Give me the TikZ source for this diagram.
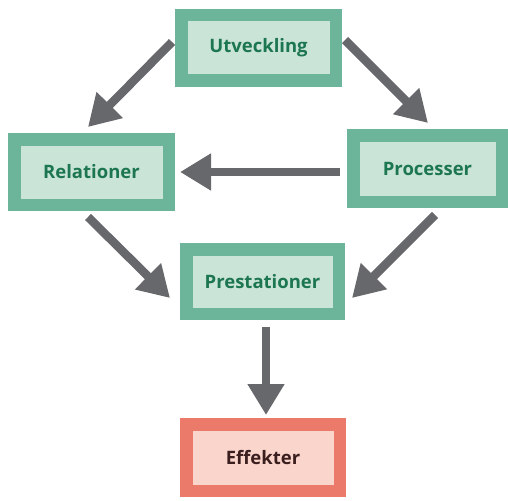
\documentclass[tikz,border=0pt]{standalone}
\usepackage{fontspec}
\setmainfont{Open Sans}
\usetikzlibrary{arrows.meta,calc}
\definecolor{gout}{HTML}{6DB59A}
\definecolor{gin}{HTML}{CBE4D8}
\definecolor{gtxt}{HTML}{1C7650}
\definecolor{rout}{HTML}{EB7A6B}
\definecolor{rin}{HTML}{F9D5CC}
\definecolor{rtxt}{HTML}{3B1E1E}
\definecolor{agray}{HTML}{67686B}
\tikzset{
  gbox/.style={draw=gout,fill=gin,line width=12.5pt,inner sep=0pt,
    text=gtxt,font=\bfseries\fontsize{18.5}{22}\selectfont},
  rbox/.style={draw=rout,fill=rin,line width=12.5pt,inner sep=0pt,
    text=rtxt,font=\bfseries\fontsize{18.5}{22}\selectfont},
  arr/.style={draw=agray,line width=8.5pt,-{Triangle[width=35pt,length=31pt]}}
}
\begin{document}
\begin{tikzpicture}[x=1pt,y=-1pt]
\useasboundingbox (0,0) rectangle (508,500);
\node[gbox,minimum width=154.5pt,minimum height=65.5pt] (U) at (258.5,48) {Utveckling};
\node[gbox,minimum width=154.5pt,minimum height=65.5pt] (R) at (91.5,172) {Relationer};
\node[gbox,minimum width=148.5pt,minimum height=66.5pt] (P) at (427.5,168.5) {Processer};
\node[gbox,minimum width=152.5pt,minimum height=64.5pt] (S) at (262.5,281.5) {Prestationer};
\node[rbox,minimum width=153.5pt,minimum height=66.5pt] (E) at (263,457.5) {Effekter};
\draw[arr] ($(U.west)+(-3,-6)$) -- ($(R.north)+(-3.5,-6)$);
\draw[arr] ($(U.east)+(3,-8)$) -- ($(P.north)+(0.5,-6)$);
\draw[arr] ($(P.west)+(-7,3.5)$) -- ($(R.east)+(5,0)$);
\draw[arr] ($(R.south)+(-3.5,6)$) -- ($(S.west)+(-10,16.5)$);
\draw[arr] ($(P.south)+(7.5,7)$) -- ($(S.east)+(7,16.5)$);
\draw[arr] ($(S.south)+(3.5,7)$) -- ($(E.north)+(3,-3)$);
\end{tikzpicture}
\end{document}
